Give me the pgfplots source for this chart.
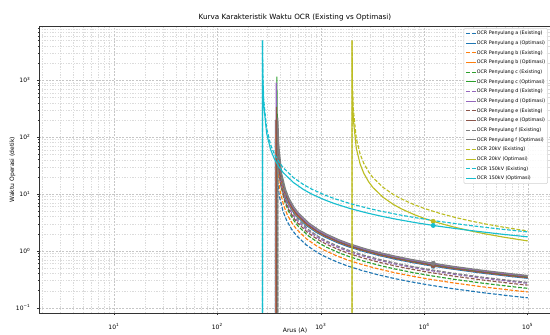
\documentclass[border=0pt]{standalone}
\usepackage{fontspec}
\setmainfont{DejaVu Sans}
\usepackage{pgfplots}
\pgfplotsset{compat=1.18}
\definecolor{ca}{HTML}{1F77B4}
\definecolor{cb}{HTML}{FF7F0E}
\definecolor{cc}{HTML}{2CA02C}
\definecolor{cd}{HTML}{9467BD}
\definecolor{ce}{HTML}{8C564B}
\definecolor{cf}{HTML}{7F7F7F}
\definecolor{cy}{HTML}{BCBD22}
\definecolor{cz}{HTML}{17BECF}
\pgfplotsset{
  ex/.style={line width=0.85pt, dash pattern=on 2.8pt off 1.3pt},
  op/.style={line width=0.85pt, solid},
  mk/.style={only marks, mark=*, mark size=1.6pt, forget plot},
}
\begin{document}
\begin{tikzpicture}
\useasboundingbox (-29.25pt,-16.5pt) rectangle (383.25pt,234.75pt);
\begin{axis}[
  at={(0,0)}, anchor=south west,
  width=384pt, height=215.25pt, scale only axis,
  xmode=log, ymode=log,
  xmin=1.884, xmax=167900, ymin=0.0811, ymax=8933,
  xtick={10,100,1000,10000,100000},
  xticklabels={10\textsuperscript{1},10\textsuperscript{2},10\textsuperscript{3},10\textsuperscript{4},10\textsuperscript{5}},
  minor xtick={2,3,4,5,6,7,8,9,20,30,40,50,60,70,80,90,200,300,400,500,600,700,800,900,2000,3000,4000,5000,6000,7000,8000,9000,20000,30000,40000,50000,60000,70000,80000,90000},
  ytick={0.1,1,10,100,1000},
  yticklabels={10\textsuperscript{−1},10\textsuperscript{0},10\textsuperscript{1},10\textsuperscript{2},10\textsuperscript{3}},
  minor ytick={0.2,0.3,0.4,0.5,0.6,0.7,0.8,0.9,2,3,4,5,6,7,8,9,20,30,40,50,60,70,80,90,200,300,400,500,600,700,800,900,2000,3000,4000,5000,6000,7000,8000},
  tick pos=left, tick align=outside,
  major tick length=1.6pt, minor tick length=0.9pt,
  tick style={black!80, line width=0.35pt},
  axis line style={black!80, line width=0.4pt},
  grid=both,
  major grid style={gray!45, line width=0.3pt, dash pattern=on 1.5pt off 1pt},
  minor grid style={gray!28, line width=0.25pt, dash pattern=on 1pt off 1pt},
  ticklabel style={font=\fontsize{4.5}{5}\selectfont},
  xticklabel shift=3pt,
  yticklabel shift=1.3pt,
  every axis title shift=0pt,
  title={Kurva Karakteristik Waktu OCR (Existing vs Optimasi)},
  title style={at={(axis description cs:0.5,1)}, anchor=center, yshift=6.6pt, font=\fontsize{5.4}{6}\selectfont},
  xlabel={Arus (A)},
  xlabel style={at={(axis description cs:0.5,0)}, anchor=center, yshift=-13.5pt, font=\fontsize{4.5}{5}\selectfont},
  ylabel={Waktu Operasi (detik)},
  ylabel style={at={(axis description cs:-0.052,0.5)}, anchor=center, font=\fontsize{4.5}{5}\selectfont},
  legend cell align=left,
  legend image code/.code={\draw[#1] (0pt,0pt) -- (7pt,0pt);},
  legend style={at={(0.994,0.993)}, anchor=north east, draw=gray!35, fill=white, fill opacity=0.85, text opacity=1, draw opacity=1, rounded corners=1pt, font=\fontsize{3.6}{4}\selectfont, inner xsep=1.5pt, inner ysep=1.5pt, row sep=2.45pt, nodes={inner sep=0.4pt, text height=3pt, text depth=1pt}},
]
% Penyulang a
\addplot[ca, ex] coordinates {(363.6,1e-3) (363.6,89.8) (370.8,30.2) (396,9.366) (432,4.891) (468,3.397) (522,2.396) (576,1.892) (720,1.280) (900,0.9662) (1080,0.8043) (1440,0.6356) (1800,0.5463) (2520,0.4503) (3600,0.3792) (5040,0.3297) (7200,0.2895) (10800,0.2539) (18000,0.2196) (36000,0.1853) (72000,0.1599) (100000,0.15)};
\addlegendentry{OCR Penyulang a (Existing)}
\addplot[ca, op] coordinates {(363.6,1e-3) (363.6,197.5) (370.8,66.45) (396,20.60) (432,10.76) (468,7.471) (522,5.270) (576,4.162) (720,2.815) (900,2.125) (1080,1.769) (1440,1.398) (1800,1.201) (2520,0.9904) (3600,0.8339) (5040,0.7251) (7200,0.6367) (10800,0.5585) (18000,0.4830) (36000,0.4075) (72000,0.3516) (100000,0.33)};
\addlegendentry{OCR Penyulang a (Optimasi)}
% Penyulang b
\addplot[cb, ex] coordinates {(368.65,1e-3) (368.65,113.4) (375.95,38.17) (401.5,11.83) (438,6.177) (474.5,4.291) (529.25,3.027) (584,2.390) (730,1.617) (912.5,1.220) (1095,1.016) (1460,0.8028) (1825,0.6900) (2555,0.5688) (3650,0.4789) (5110,0.4164) (7300,0.3656) (10950,0.3207) (18250,0.2774) (36500,0.2340) (73000,0.2019) (100000,0.19)};
\addlegendentry{OCR Penyulang b (Existing)}
\addplot[cb, op] coordinates {(368.65,1e-3) (368.65,203.0) (375.95,68.32) (401.5,21.17) (438,11.06) (474.5,7.680) (529.25,5.418) (584,4.278) (730,2.894) (912.5,2.184) (1095,1.818) (1460,1.437) (1825,1.235) (2555,1.018) (3650,0.8573) (5110,0.7454) (7300,0.6545) (10950,0.5741) (18250,0.4965) (36500,0.4189) (73000,0.3614) (100000,0.34)};
\addlegendentry{OCR Penyulang b (Optimasi)}
% Penyulang c
\addplot[cc, ex] coordinates {(378.75,1e-3) (378.75,130.7) (386.25,43.97) (412.5,13.63) (450,7.116) (487.5,4.943) (543.75,3.487) (600,2.753) (750,1.863) (937.5,1.406) (1125,1.170) (1500,0.9248) (1875,0.7948) (2625,0.6552) (3750,0.5517) (5250,0.4797) (7500,0.4212) (11250,0.3695) (18750,0.3195) (37500,0.2696) (75000,0.2326) (100000,0.22)};
\addlegendentry{OCR Penyulang c (Existing)}
\addplot[cc, op] coordinates {(375.675,1e-3) (375.675,1150) (376.125,690.5) (378.75,207.9) (386.25,69.96) (412.5,21.68) (450,11.32) (487.5,7.864) (543.75,5.548) (600,4.381) (750,2.964) (937.5,2.237) (1125,1.862) (1500,1.472) (1875,1.265) (2625,1.043) (3750,0.8779) (5250,0.7633) (7500,0.6702) (11250,0.5879) (18750,0.5084) (37500,0.4290) (75000,0.3701) (100000,0.35)};
\addlegendentry{OCR Penyulang c (Optimasi)}
% Penyulang d
\addplot[cd, ex] coordinates {(373.7,1e-3) (373.7,160.8) (381.1,54.11) (407,16.77) (444,8.758) (481,6.083) (536.5,4.291) (592,3.389) (740,2.292) (925,1.730) (1110,1.440) (1480,1.138) (1850,0.9782) (2590,0.8064) (3700,0.6790) (5180,0.5904) (7400,0.5184) (11100,0.4547) (18500,0.3933) (37000,0.3318) (74000,0.2863) (100000,0.27)};
\addlegendentry{OCR Penyulang d (Existing)}
\addplot[cd, op] coordinates {(370.88,1e-3) (370.88,900) (373.7,214.4) (381.1,72.14) (407,22.36) (444,11.68) (481,8.110) (536.5,5.721) (592,4.518) (740,3.056) (925,2.307) (1110,1.920) (1480,1.517) (1850,1.304) (2590,1.075) (3700,0.9052) (5180,0.7871) (7400,0.6911) (11100,0.6062) (18500,0.5243) (37000,0.4424) (74000,0.3816) (100000,0.36)};
\addlegendentry{OCR Penyulang d (Optimasi)}
% Penyulang e
\addplot[ce, ex] coordinates {(373.7,1e-3) (373.7,148.9) (381.1,50.10) (407,15.53) (444,8.110) (481,5.633) (536.5,3.973) (592,3.138) (740,2.123) (925,1.602) (1110,1.334) (1480,1.054) (1850,0.9058) (2590,0.7467) (3700,0.6287) (5180,0.5467) (7400,0.4800) (11100,0.4210) (18500,0.3642) (37000,0.3073) (74000,0.2651) (100000,0.25)};
\addlegendentry{OCR Penyulang e (Existing)}
\addplot[ce, op] coordinates {(372.19,1e-3) (372.19,340) (373.7,202.5) (381.1,68.15) (407,21.12) (444,11.03) (481,7.661) (536.5,5.404) (592,4.268) (740,2.887) (925,2.179) (1110,1.814) (1480,1.433) (1850,1.232) (2590,1.016) (3700,0.8552) (5180,0.7435) (7400,0.6529) (11100,0.5727) (18500,0.4953) (37000,0.4179) (74000,0.3605) (100000,0.34)};
\addlegendentry{OCR Penyulang e (Optimasi)}
% Penyulang f
\addplot[cf, ex] coordinates {(383.8,1e-3) (383.8,165.8) (391.4,55.80) (418,17.30) (456,9.032) (494,6.273) (551,4.425) (608,3.495) (760,2.364) (950,1.784) (1140,1.485) (1520,1.174) (1900,1.009) (2660,0.8316) (3800,0.7003) (5320,0.6089) (7600,0.5346) (11400,0.4689) (19000,0.4056) (38000,0.3422) (76000,0.2952) (100000,0.28)};
\addlegendentry{OCR Penyulang f (Existing)}
\addplot[cf, op] coordinates {(383.8,1e-3) (383.8,219.2) (391.4,73.78) (418,22.87) (456,11.94) (494,8.294) (551,5.851) (608,4.620) (760,3.126) (950,2.359) (1140,1.964) (1520,1.552) (1900,1.334) (2660,1.099) (3800,0.9258) (5320,0.8050) (7600,0.7068) (11400,0.6200) (19000,0.5362) (38000,0.4524) (76000,0.3903) (100000,0.37)};
\addlegendentry{OCR Penyulang f (Optimasi)}
% 20 kV
\addplot[cy, ex] coordinates {(2003.64,1e-3) (2003.64,5000) (2020,914.6) (2060,307.8) (2200,95.39) (2400,49.81) (2600,34.59) (2900,24.40) (3200,19.27) (4000,13.04) (5000,9.841) (6000,8.193) (8000,6.474) (10000,5.564) (14000,4.586) (20000,3.862) (28000,3.358) (40000,2.948) (60000,2.586) (100000,2.236)};
\addlegendentry{OCR 20kV (Existing)}
\addplot[cy, op] coordinates {(2002.44,1e-3) (2002.44,5000) (2020,612.0) (2060,206.0) (2200,63.84) (2400,33.34) (2600,23.15) (2900,16.33) (3200,12.90) (4000,8.725) (5000,6.586) (6000,5.483) (8000,4.332) (10000,3.723) (14000,3.069) (20000,2.585) (28000,2.247) (40000,1.973) (60000,1.731) (100000,1.497)};
\addlegendentry{OCR 20kV (Optimasi)}
% 150 kV
\addplot[cz, ex] coordinates {(272.73,1e-3) (272.73,5000) (274.72,1357.8) (280.16,456.9) (299.2,141.6) (326.4,73.95) (353.6,51.37) (394.4,36.23) (435.2,28.61) (544,19.36) (680,14.61) (816,12.16) (1088,9.611) (1360,8.260) (1904,6.809) (2720,5.734) (3808,4.985) (5440,4.376) (8160,3.838) (13600,3.320) (27200,2.801) (54400,2.417) (100000,2.155)};
\addlegendentry{OCR 150kV (Existing)}
\addplot[cz, op] coordinates {(272.6,1e-3) (272.6,5000) (274.72,1111.5) (280.16,374.0) (299.2,115.9) (326.4,60.54) (353.6,42.05) (394.4,29.66) (435.2,23.42) (544,15.85) (680,11.96) (816,9.957) (1088,7.868) (1360,6.762) (1904,5.574) (2720,4.694) (3808,4.081) (5440,3.583) (8160,3.142) (13600,2.718) (27200,2.293) (54400,1.979) (100000,1.764)};
\addlegendentry{OCR 150kV (Optimasi)}
% operating points at fault current
\addplot[mk, ca] coordinates {(12200,0.538)};
\addplot[mk, cb] coordinates {(12200,0.556)};
\addplot[mk, cc] coordinates {(12200,0.574)};
\addplot[mk, cd] coordinates {(12200,0.589)};
\addplot[mk, ce] coordinates {(12200,0.557)};
\addplot[mk, cf] coordinates {(12200,0.607)};
\addplot[mk, cy] coordinates {(12200,3.307)};
\addplot[mk, cz] coordinates {(12200,2.799)};
\end{axis}
\end{tikzpicture}
\end{document}
